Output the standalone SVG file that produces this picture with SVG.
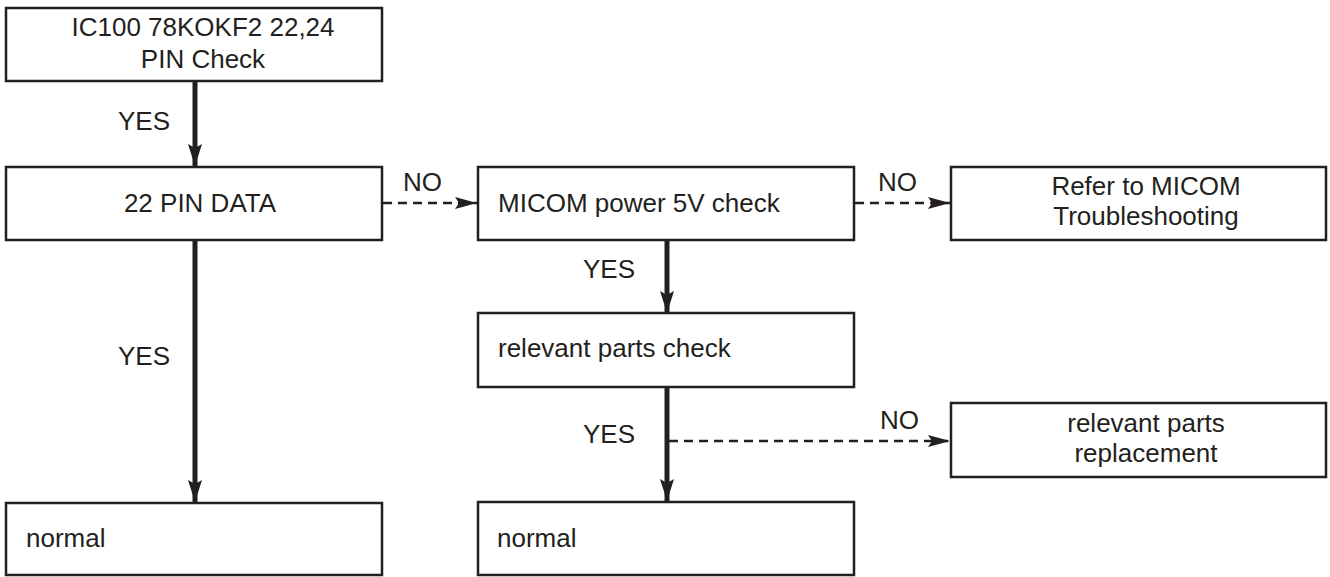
<svg xmlns="http://www.w3.org/2000/svg" width="1330" height="577" viewBox="0 0 1330 577">
<style>
.box{fill:#fff;stroke:#231f20;stroke-width:2.5}
.t{font-family:"Liberation Sans",Arial,sans-serif;font-size:26px;fill:#231f20}
.c{text-anchor:middle}
.solid{stroke:#231f20;stroke-width:5;fill:none}
.dash{stroke:#231f20;stroke-width:2.5;fill:none;stroke-dasharray:9,6}
</style>
<defs>
<marker id="ah" markerUnits="userSpaceOnUse" markerWidth="24" markerHeight="14" refX="22" refY="7" orient="auto">
<path d="M0,0 L22,7 L0,14 L4,7 Z" fill="#231f20"/>
</marker>
<marker id="ahs" markerUnits="userSpaceOnUse" markerWidth="24" markerHeight="12" refX="22" refY="6" orient="auto">
<path d="M0,0 L22,6 L0,12 L4,6 Z" fill="#231f20"/>
</marker>
</defs>
<rect width="1330" height="577" fill="#fff"/>
<g id="connectors">
<line class="solid" x1="195" y1="82" x2="195" y2="166" marker-end="url(#ah)"/>
<line class="solid" x1="195" y1="241" x2="195" y2="502" marker-end="url(#ah)"/>
<line class="dash" x1="383" y1="203" x2="477" y2="203" marker-end="url(#ahs)"/>
<line class="dash" x1="855" y1="203" x2="950" y2="203" marker-end="url(#ahs)"/>
<line class="solid" x1="667" y1="241" x2="667" y2="313" marker-end="url(#ah)"/>
<line class="solid" x1="667" y1="388" x2="667" y2="501" marker-end="url(#ah)"/>
<line class="dash" x1="669" y1="441" x2="950" y2="441" marker-end="url(#ahs)"/>
<text class="t" x="118" y="130">YES</text>
<text class="t" x="118" y="365">YES</text>
<text class="t" x="403" y="191">NO</text>
<text class="t" x="878" y="191">NO</text>
<text class="t" x="583" y="278">YES</text>
<text class="t" x="583" y="443">YES</text>
<text class="t" x="880" y="429">NO</text>
</g>
<g id="n1"><rect class="box" x="6" y="8" width="376" height="73"/>
<text class="t c" x="203" y="36">IC100 78KOKF2 22,24</text>
<text class="t c" x="203" y="68">PIN Check</text></g>
<g id="n2"><rect class="box" x="6" y="167" width="376" height="73"/>
<text class="t c" x="200" y="212">22 PIN DATA</text></g>
<g id="n3"><rect class="box" x="478" y="167" width="376" height="73"/>
<text class="t" x="498" y="212">MICOM power 5V check</text></g>
<g id="n4"><rect class="box" x="951" y="167" width="375" height="73"/>
<text class="t c" x="1146" y="195">Refer to MICOM</text>
<text class="t c" x="1146" y="225">Troubleshooting</text></g>
<g id="n5"><rect class="box" x="478" y="313" width="376" height="74"/>
<text class="t" x="498" y="357">relevant parts check</text></g>
<g id="n6"><rect class="box" x="951" y="403" width="375" height="74"/>
<text class="t c" x="1146" y="432">relevant parts</text>
<text class="t c" x="1146" y="462">replacement</text></g>
<g id="n7"><rect class="box" x="6" y="503" width="376" height="72"/>
<text class="t" x="26" y="547">normal</text></g>
<g id="n8"><rect class="box" x="478" y="502" width="376" height="73"/>
<text class="t" x="497" y="547">normal</text></g>
</svg>
